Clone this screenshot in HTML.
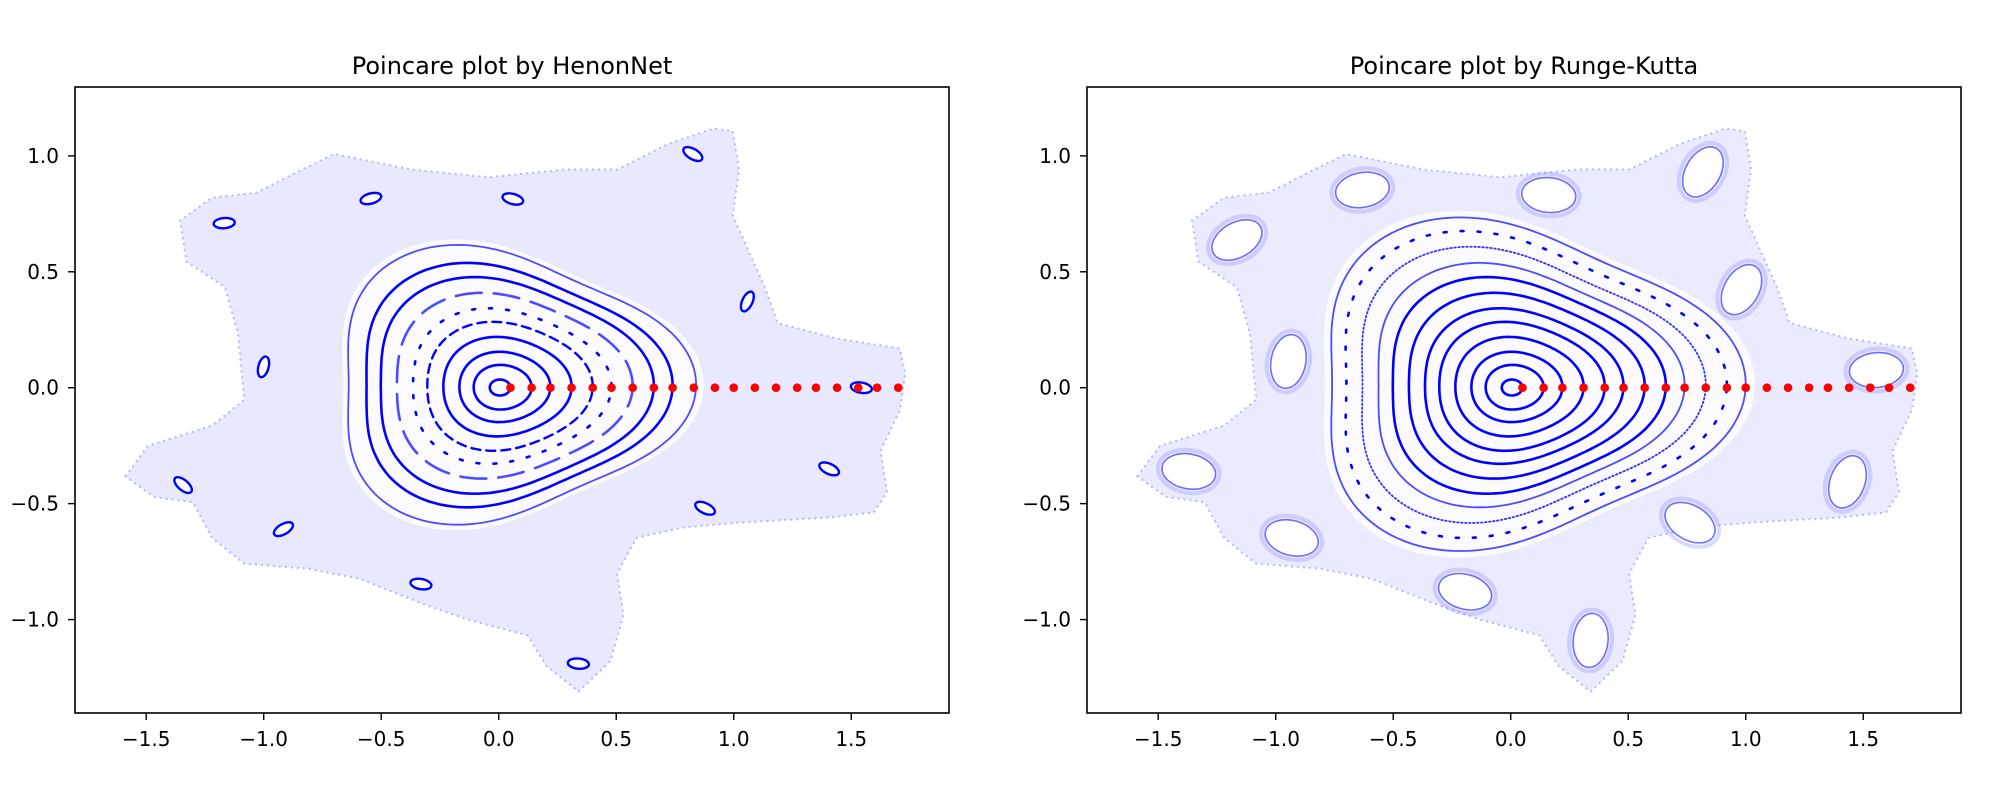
<!DOCTYPE html>
<html><head><meta charset="utf-8">
<style>
html,body{margin:0;padding:0;background:#fff;}
svg{display:block;}
text{font-family:"DejaVu Sans","Liberation Sans",sans-serif;fill:#000;}
</style></head>
<body>
<svg id="fig" width="1992" height="794" viewBox="0 0 1992 794"></svg>
<script>
// ---- data ----
const xTicks = [-1.5, -1.0, -0.5, 0.0, 0.5, 1.0, 1.5];
const xTickLabels = ["\u22121.5", "\u22121.0", "\u22120.5", "0.0", "0.5", "1.0", "1.5"];
const yTicks = [-1.0, -0.5, 0.0, 0.5, 1.0];
const yTickLabels = ["\u22121.0", "\u22120.5", "0.0", "0.5", "1.0"];
const redX = [0.05,0.14,0.22,0.31,0.40,0.48,0.57,0.66,0.74,0.83,0.92,1.00,1.09,1.18,1.27,1.35,1.44,1.53,1.61,1.70];
const redY = [0,0,0,0,0,0,0,0,0,0,0,0,0,0,0,0,0,0,0,0];
const henonRings = [0.05,0.14,0.22,0.31,0.40,0.48,0.57,0.66,0.74,0.84];
const henonRingStyle = [0,0,0,0,1,2,3,0,0,4];
const rkRings = [0.05,0.14,0.22,0.31,0.40,0.48,0.57,0.66,0.74,0.83,0.92,1.00];
const rkRingStyle = [0,0,0,0,0,0,0,0,4,5,2,4];
const henonIslandX = [0.826,-0.544,0.060,-1.168,1.058,-1.001,1.543,-1.343,1.406,0.878,-0.916,-0.331,0.339];
const henonIslandY = [1.008,0.816,0.814,0.710,0.372,0.090,0.000,-0.420,-0.350,-0.520,-0.610,-0.847,-1.190];
const henonIslandAngle = [30,-15,15,-5,-65,-75,10,40,25,25,-30,10,5];
const rkIslandX = [0.818,-0.631,0.162,-1.165,0.982,-0.946,1.556,-1.370,1.433,0.763,-0.932,-0.194,0.340];
const rkIslandY = [0.931,0.853,0.831,0.637,0.423,0.113,0.076,-0.361,-0.406,-0.582,-0.648,-0.880,-1.090];
const rkIslandAngle = [-60,-10,5,-30,-60,-80,-5,10,-70,30,15,15,-85];
const seaX = [-1.589,-1.493,-1.219,-1.083,-1.110,-1.165,-1.329,-1.356,-1.219,-1.028,-0.837,-0.700,-0.372,-0.043,0.285,0.504,0.722,0.914,0.996,1.023,0.996,1.133,1.187,1.434,1.707,1.730,1.707,1.625,1.652,1.597,1.406,1.023,0.777,0.586,0.504,0.531,0.476,0.340,0.203,0.121,-0.125,-0.317,-0.590,-0.809,-1.083,-1.219,-1.302,-1.466];
const seaY = [-0.383,-0.251,-0.163,-0.052,0.235,0.433,0.544,0.721,0.820,0.842,0.941,1.008,0.941,0.908,0.941,0.941,1.052,1.118,1.107,0.941,0.743,0.433,0.279,0.213,0.169,0.060,-0.096,-0.273,-0.450,-0.538,-0.560,-0.582,-0.604,-0.648,-0.803,-0.980,-1.178,-1.311,-1.200,-1.068,-1.002,-0.935,-0.825,-0.781,-0.759,-0.648,-0.494,-0.472];

const NS = "http://www.w3.org/2000/svg";
const svg = document.getElementById('fig');
function mk(tag, attrs, parent){
  const e = document.createElementNS(NS, tag);
  for (const k in attrs) e.setAttribute(k, attrs[k]);
  (parent||svg).appendChild(e); return e;
}
const XMIN=-1.803, XMAX=1.916, YMIN=-1.403, YMAX=1.297;
const BOX_L=75, BOX_W=874, BOX_T=87, BOX_H=626;

function panel(offset, title, rings, ringStyle, islX, islY, islA, islRx, islRy, seaOp, name){
  const g = mk('g', {});
  
  
  const L = BOX_L+offset;
  const sx = v => L + (v-XMIN)/(XMAX-XMIN)*BOX_W;
  const sy = v => BOX_T + (YMAX-v)/(YMAX-YMIN)*BOX_H;
  const kx = BOX_W/(XMAX-XMIN), ky = BOX_H/(YMAX-YMIN);

  let d = seaX.map((x,i)=>(i?'L':'M')+sx(x).toFixed(1)+','+sy(seaY[i]).toFixed(1)).join('')+'Z';
  const sea = mk('path', {d:d, fill:'rgb(0,0,255)', 'fill-opacity':seaOp, stroke:'rgb(120,120,255)', 'stroke-opacity':0.5, 'stroke-width':2, 'stroke-dasharray':'2 4', 'stroke-linejoin':'round'}, g);
  
  

  function ringPath(R, scale){
    const k = Math.min(0.12, 0.14*R);
    const w = R*0.88*scale;
    const cx = R - R*0.88*(1+k);
    let p = '';
    for (let i=0;i<=180;i++){
      const t = i/180*2*Math.PI;
      const f = 1 + k*Math.cos(3*t);
      const x = cx + w*Math.cos(t)*f;
      const y = 0.015*R + w*0.78*Math.sin(t)*f;
      p += (i?'L':'M')+sx(x).toFixed(1)+','+sy(y).toFixed(1);
    }
    return p+'Z';
  }
  const outer = rings[rings.length-1];
  const clr = mk('path', {d:ringPath(outer, 1.04), fill:'#fff', 'fill-opacity':0.8, stroke:'none'}, g);
  
  

  const styles = [
    {w:2.6, dash:null, op:1},
    {w:2.4, dash:'9 6', op:1},
    {w:2.6, dash:'3 14', op:1},
    {w:2.6, dash:'26 12', op:0.7},
    {w:1.8, dash:null, op:0.7},
    {w:1.8, dash:'1.5 2.5', op:0.8}
  ];
  rings.forEach((R,i)=>{
    const st = styles[ringStyle[i]];
    const a = {d:ringPath(R,1), fill:'none', stroke:'#0000ff', 'stroke-width':st.w, 'stroke-opacity':st.op, 'stroke-linecap':'round'};
    if (st.dash) a['stroke-dasharray']=st.dash;
    const r = mk('path', a, g);
    
    
  });
  islX.forEach((x,i)=>{
    const cxp = sx(x), cyp = sy(islY[i]);
    if (islRx > 0.08){
      const halo = mk('ellipse', {cx:cxp, cy:cyp, rx:islRx*kx+4, ry:islRy*ky+4, fill:'none', stroke:'#6f6fff', 'stroke-width':4, 'stroke-opacity':0.25, transform:`rotate(${islA[i]} ${cxp} ${cyp})`}, g);
      
      
    }
    const e = mk('ellipse', {cx:cxp, cy:cyp, rx:islRx*kx, ry:islRy*ky, fill:'#fff', stroke:'#0000ff', 'stroke-width': islRx>0.08?1.6:2.4, 'stroke-opacity': islRx>0.08?0.55:1, transform:`rotate(${islA[i]} ${cxp} ${cyp})`}, g);
    
    
  });
  redX.forEach((x,i)=>{
    const c = mk('circle', {cx:sx(x), cy:sy(redY[i]), r:4.3, fill:'#ff0000'}, g);
    
    
  });
  const fr = mk('rect', {x:L, y:BOX_T, width:BOX_W, height:BOX_H, fill:'none', stroke:'#000', 'stroke-width':1.6}, g);
  
  
  xTicks.forEach((v,i)=>{
    const x = sx(v);
    const t = mk('line', {x1:x, x2:x, y1:BOX_T+BOX_H, y2:BOX_T+BOX_H+7, stroke:'#000', 'stroke-width':1.4}, g);
    
    
    const l = mk('text', {x:x, y:BOX_T+BOX_H+33, 'text-anchor':'middle', 'font-size':20}, g);
    l.textContent = xTickLabels[i];
    
    
  });
  yTicks.forEach((v,i)=>{
    const y = sy(v);
    const t = mk('line', {x1:L-7, x2:L, y1:y, y2:y, stroke:'#000', 'stroke-width':1.4}, g);
    
    
    const l = mk('text', {x:L-16, y:y+7, 'text-anchor':'end', 'font-size':20}, g);
    l.textContent = yTickLabels[i];
    
    
  });
  const tt = mk('text', {x:L+BOX_W/2, y:74, 'text-anchor':'middle', 'font-size':24}, g);
  tt.textContent = title;
  
  
}
panel(0, 'Poincare plot by HenonNet', henonRings, henonRingStyle, henonIslandX, henonIslandY, henonIslandAngle, 0.045, 0.022, 0.09, 'henonnet-panel');
panel(1012, 'Poincare plot by Runge-Kutta', rkRings, rkRingStyle, rkIslandX, rkIslandY, rkIslandAngle, 0.115, 0.075, 0.08, 'runge-kutta-panel');
</script>
</body></html>
